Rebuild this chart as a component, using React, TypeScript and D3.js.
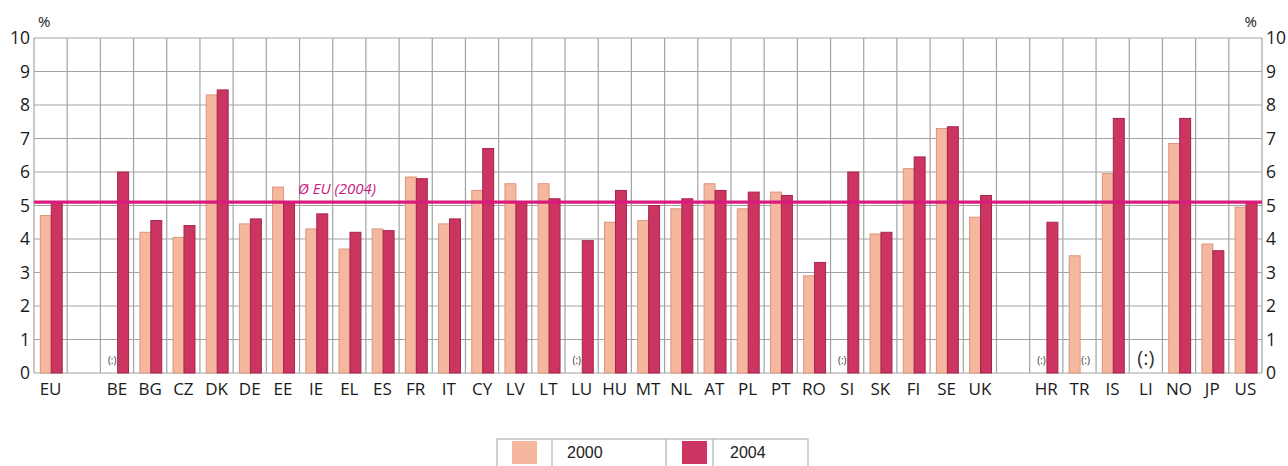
import React, { useEffect, useRef } from 'react';
import * as d3 from 'd3';

// null entries in slots are empty spacer columns
const slots: (string | null)[] = [
  "EU", null,
  "BE", "BG", "CZ", "DK", "DE", "EE", "IE", "EL", "ES", "FR", "IT", "CY", "LV", "LT",
  "LU", "HU", "MT", "NL", "AT", "PL", "PT", "RO", "SI", "SK", "FI", "SE", "UK",
  null,
  "HR", "TR", "IS", "LI", "NO", "JP", "US"
];

const values2000: (number | null)[] = [
  4.7, null,
  null, 4.2, 4.05, 8.3, 4.45, 5.55, 4.3, 3.7, 4.3, 5.85, 4.45, 5.45, 5.65, 5.65,
  null, 4.5, 4.55, 4.9, 5.65, 4.9, 5.4, 2.9, null, 4.15, 6.1, 7.3, 4.65,
  null,
  null, 3.5, 5.95, null, 6.85, 3.85, 4.95
];

const values2004: (number | null)[] = [
  5.1, null,
  6.0, 4.55, 4.4, 8.45, 4.6, 5.1, 4.75, 4.2, 4.25, 5.8, 4.6, 6.7, 5.1, 5.2,
  3.95, 5.45, 5.0, 5.2, 5.45, 5.4, 5.3, 3.3, 6.0, 4.2, 6.45, 7.35, 5.3,
  null,
  4.5, null, 7.6, null, 7.6, 3.65, 5.1
];

const euAverage2004 = 5.1;
const yTicks = [0, 1, 2, 3, 4, 5, 6, 7, 8, 9, 10];
const seriesLabels = ["2000", "2004"];

const App: React.FC = () => {
  const svgRef = useRef<SVGSVGElement>(null);

  useEffect(() => {
    if (!svgRef.current) return;
    const svg = d3.select(svgRef.current);
    svg.selectAll("*").remove();

    const font = "'Open Sans', 'Liberation Sans', sans-serif";
    const left = 34, right = 1262, top = 38, bottom = 373;
    const pale = "#f5b89e", paleStroke = "#d9957c";
    const dark = "#cc3461", darkStroke = "#a3264a";

    const keys = slots.map((s, i) => s ?? `gap${i}`);
    const x = d3.scaleBand<string>().domain(keys).range([left, right]).padding(0);
    const y = d3.scaleLinear().domain([0, 10]).range([bottom, top]);
    const bw = x.bandwidth();
    const barW = bw * 0.33;
    const off = bw * 0.19;

    svg.append("rect").attr("width", 1288).attr("height", 466).attr("fill", "#fff");

    // grid
    const grid = svg.append("g").attr("stroke", "#a3a3a3").attr("stroke-width", 1.2);
    grid.selectAll("line.h").data(yTicks).enter().append("line")
      .attr("x1", left).attr("x2", right)
      .attr("y1", d => y(d)).attr("y2", d => y(d));
    const vx = keys.map(k => x(k)!).concat([right]);
    grid.selectAll("line.v").data(vx).enter().append("line")
      .attr("x1", d => d).attr("x2", d => d)
      .attr("y1", top).attr("y2", bottom);

    // bars
    const rows = keys.map((k, i) => ({ k, name: slots[i], a: values2000[i], b: values2004[i] }));
    svg.append("g").selectAll("rect").data(rows.filter(r => r.a != null)).enter().append("rect")
      .attr("x", r => x(r.k)! + off).attr("width", barW)
      .attr("y", r => y(r.a!)).attr("height", r => bottom - y(r.a!))
      .attr("fill", pale).attr("stroke", paleStroke).attr("stroke-width", 1);
    svg.append("g").selectAll("rect").data(rows.filter(r => r.b != null)).enter().append("rect")
      .attr("x", r => x(r.k)! + off + barW).attr("width", barW)
      .attr("y", r => y(r.b!)).attr("height", r => bottom - y(r.b!))
      .attr("fill", dark).attr("stroke", darkStroke).attr("stroke-width", 1);

    // missing data markers
    const missing = svg.append("g").attr("font-family", font).attr("fill", "#333").attr("text-anchor", "middle");
    rows.filter(r => r.name).forEach(r => {
      if (r.a == null && r.b == null) {
        missing.append("text").attr("x", x(r.k)! + bw / 2).attr("y", bottom - 8)
          .attr("font-size", 20).text("(:)");
      } else if (r.a == null) {
        missing.append("text").attr("x", x(r.k)! + off + barW / 2).attr("y", bottom - 9)
          .attr("font-size", 10).text("(:)");
      } else if (r.b == null) {
        missing.append("text").attr("x", x(r.k)! + off + barW * 1.5).attr("y", bottom - 9)
          .attr("font-size", 10).text("(:)");
      }
    });

    // EU average line
    svg.append("line").attr("x1", left).attr("x2", right)
      .attr("y1", y(euAverage2004)).attr("y2", y(euAverage2004))
      .attr("stroke", "#d81b7c").attr("stroke-width", 3.2);
    svg.append("text").attr("x", 298).attr("y", y(euAverage2004) - 8)
      .attr("font-family", font).attr("font-style", "italic").attr("font-size", 15)
      .attr("fill", "#c8197f").text("Ø EU (2004)");

    // y axes labels
    const axisText = svg.append("g").attr("font-family", font).attr("font-size", 17.5).attr("fill", "#1a1a1a");
    axisText.selectAll("text.l").data(yTicks).enter().append("text")
      .attr("x", left - 4).attr("y", d => y(d)).attr("dy", "0.35em")
      .attr("text-anchor", "end").text(d => d);
    axisText.selectAll("text.r").data(yTicks).enter().append("text")
      .attr("x", right + 4).attr("y", d => y(d)).attr("dy", "0.35em")
      .attr("text-anchor", "start").text(d => d);
    svg.append("text").attr("x", 38).attr("y", 27).attr("font-family", font)
      .attr("font-size", 15).attr("fill", "#1a1a1a").text("%");
    svg.append("text").attr("x", 1257).attr("y", 27).attr("font-family", font)
      .attr("font-size", 15).attr("fill", "#1a1a1a").attr("text-anchor", "end").text("%");

    // category labels
    svg.append("g").attr("font-family", font).attr("font-size", 17).attr("fill", "#1a1a1a")
      .attr("text-anchor", "middle")
      .selectAll("text").data(rows.filter(r => r.name)).enter().append("text")
      .attr("x", r => x(r.k)! + bw / 2).attr("y", bottom + 22).text(r => r.name!);

    // legend
    const lg = svg.append("g");
    const cells = [497, 552, 666, 713, 808];
    lg.append("rect").attr("x", cells[0]).attr("y", 439).attr("width", cells[4] - cells[0]).attr("height", 40)
      .attr("fill", "#fff").attr("stroke", "#a3a3a3");
    cells.slice(1, 4).forEach(cx => {
      lg.append("line").attr("x1", cx).attr("x2", cx).attr("y1", 439).attr("y2", 479).attr("stroke", "#a3a3a3");
    });
    [pale, dark].forEach((c, i) => {
      lg.append("rect").attr("x", i === 0 ? 512 : 682).attr("y", 441).attr("width", 25).attr("height", 23).attr("fill", c);
      lg.append("text").attr("x", i === 0 ? 567 : 730).attr("y", 458)
        .attr("font-family", "'Liberation Sans', Arial, sans-serif").attr("font-size", 16).attr("fill", "#222")
        .text(seriesLabels[i]);
    });
  }, []);

  return (
    <svg ref={svgRef} width={1288} height={466} style={{ position: 'absolute', left: 0, top: 0 }} />
  );
};

export default App;
